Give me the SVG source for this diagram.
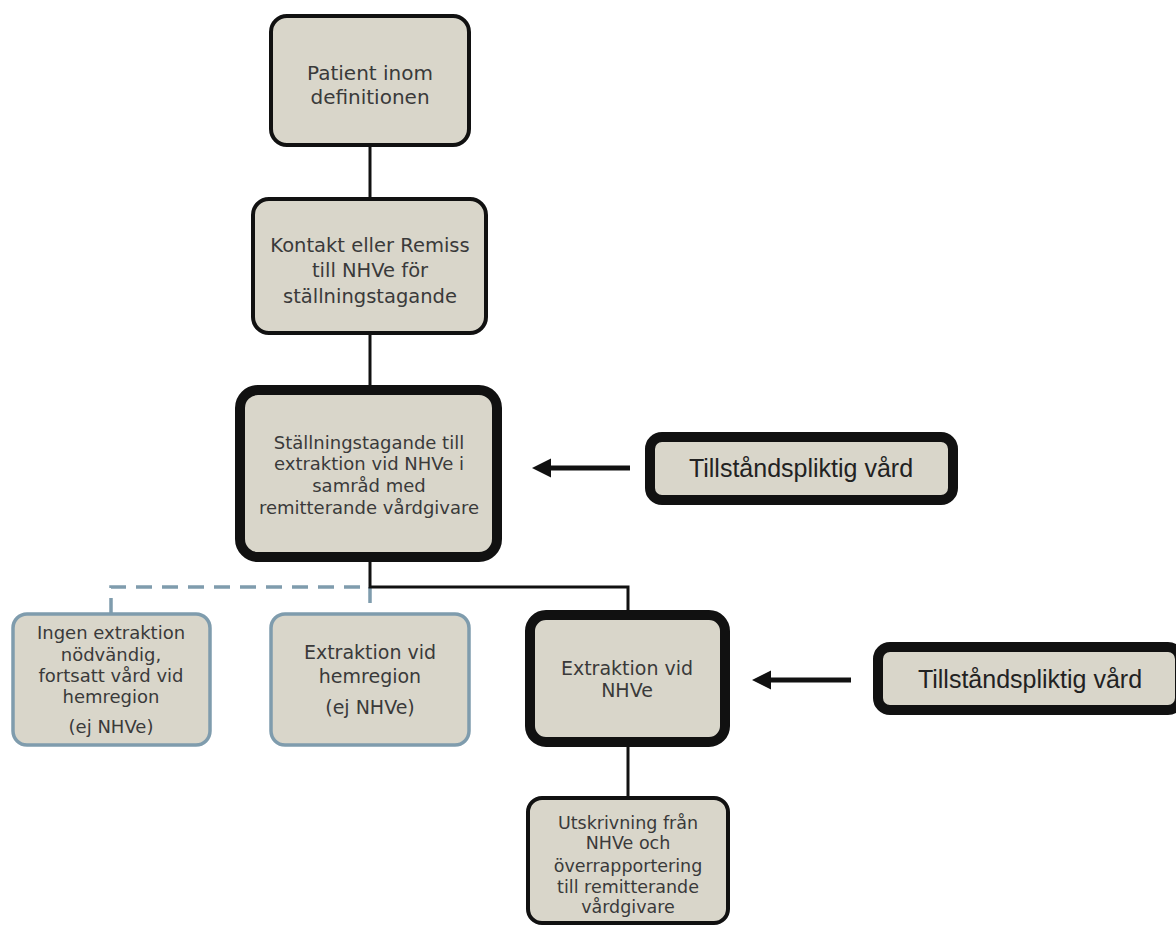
<svg xmlns="http://www.w3.org/2000/svg" width="1176" height="927" viewBox="0 0 1176 927">
<defs>
<style>
.box{fill:#d9d6ca;stroke:#111;stroke-width:4}
.thick{stroke-width:10}
.blue{fill:#d9d6ca;stroke:#7f9cad;stroke-width:3.5}
.t{font-family:"DejaVu Sans","Liberation Sans",sans-serif;fill:#3a3a3a;text-anchor:middle}
.big{font-family:"Liberation Sans",Arial,sans-serif;font-size:25px;fill:#222;text-anchor:middle}
.ln{fill:none;stroke:#111;stroke-width:3}
.dash{fill:none;stroke:#7f9cad;stroke-width:3.5;stroke-dasharray:16 10}
.arr{fill:none;stroke:#111;stroke-width:5}
</style>
</defs>
<g id="connectors">
<line class="ln" x1="370" y1="145" x2="370" y2="199"/>
<line class="ln" x1="370" y1="333" x2="370" y2="386"/>
<polyline class="dash" points="111,614 111,587 370,587 370,612"/>
<polyline class="ln" points="370,561 370,587 628,587 628,611"/>
<line class="ln" x1="628" y1="746" x2="628" y2="798"/>
<line class="arr" x1="630" y1="468" x2="548" y2="468"/>
<polygon points="532,468 551,458.5 551,477.5" fill="#111"/>
<line class="arr" x1="851" y1="680" x2="768" y2="680"/>
<polygon points="752,680 771,670.5 771,689.5" fill="#111"/>
</g>
<g id="n1">
<rect class="box" x="271" y="16" width="198" height="129" rx="16"/>
<text class="t" font-size="20"><tspan x="370" y="80">Patient inom</tspan><tspan x="370" y="104">definitionen</tspan></text>
</g>
<g id="n2">
<rect class="box" x="253" y="199" width="233" height="134" rx="16"/>
<text class="t" font-size="19.5"><tspan x="370" y="252">Kontakt eller Remiss</tspan><tspan x="370" y="277">till NHVe för</tspan><tspan x="370" y="303">ställningstagande</tspan></text>
</g>
<g id="n3">
<rect class="box thick" x="240" y="390" width="257" height="167" rx="18"/>
<text class="t" font-size="18"><tspan x="369" y="449">Ställningstagande till</tspan><tspan x="369" y="470">extraktion vid NHVe i</tspan><tspan x="369" y="492">samråd med</tspan><tspan x="369" y="514">remitterande vårdgivare</tspan></text>
</g>
<g id="n4">
<rect class="box thick" x="650" y="437" width="303" height="63" rx="12"/>
<text class="big" x="801" y="477">Tillståndspliktig vård</text>
</g>
<g id="n5">
<rect class="blue" x="13" y="614" width="197" height="131" rx="14"/>
<text class="t" font-size="18"><tspan x="111" y="639">Ingen extraktion</tspan><tspan x="111" y="661">nödvändig,</tspan><tspan x="111" y="682">fortsatt vård vid</tspan><tspan x="111" y="703">hemregion</tspan><tspan x="111" y="733">(ej NHVe)</tspan></text>
</g>
<g id="n6">
<rect class="blue" x="271" y="614" width="198" height="131" rx="14"/>
<text class="t" font-size="19"><tspan x="370" y="659">Extraktion vid</tspan><tspan x="370" y="683">hemregion</tspan><tspan x="370" y="714">(ej NHVe)</tspan></text>
</g>
<g id="n7">
<rect class="box thick" x="530" y="615" width="195" height="127" rx="16"/>
<text class="t" font-size="19"><tspan x="627" y="675">Extraktion vid</tspan><tspan x="627" y="697">NHVe</tspan></text>
</g>
<g id="n8">
<rect class="box thick" x="878" y="647" width="302" height="63" rx="12"/>
<text class="big" x="1030" y="688">Tillståndspliktig vård</text>
</g>
<g id="n9">
<rect class="box" x="528" y="798" width="200" height="125" rx="14"/>
<text class="t" font-size="17.5"><tspan x="628" y="829">Utskrivning från</tspan><tspan x="628" y="849">NHVe och</tspan><tspan x="628" y="872">överrapportering</tspan><tspan x="628" y="893">till remitterande</tspan><tspan x="628" y="913">vårdgivare</tspan></text>
</g>
</svg>
